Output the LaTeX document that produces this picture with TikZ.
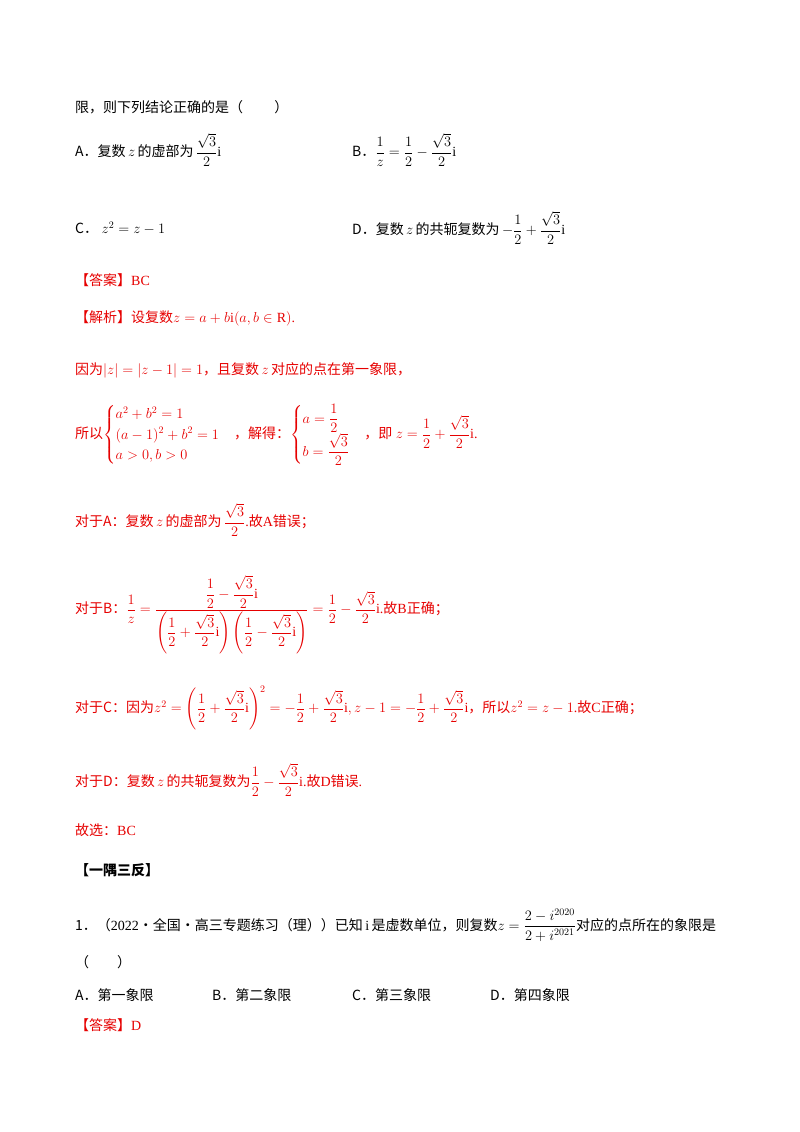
\documentclass[tikz,border=0pt]{standalone}
\usepackage{amsmath,amssymb}
\usepackage{fontspec}
\setmainfont{Liberation Serif}
\newfontfamily\cjk{Noto Sans CJK SC}
\definecolor{ansred}{RGB}{230,0,0}
\begin{document}
\begin{tikzpicture}[x=1pt,y=-1pt,
  every node/.style={anchor=west,inner sep=0pt,font=\fontsize{14}{17}\selectfont},
  red/.style={text=ansred}]
\useasboundingbox (0,0) rectangle (800,1132);
\node (l1) at (75,107) {\cjk 限，则下列结论正确的是（\qquad\ ）};
\node (a) at (75,150) {{\cjk A．复数}\,$z$\,{\cjk 的虚部为}\,$\dfrac{\sqrt3}{2}\mathrm{i}$};
\node (b) at (352,150) {{\cjk B．}$\dfrac1z=\dfrac12-\dfrac{\sqrt3}{2}\mathrm{i}$};
\node (c) at (75,228) {{\cjk C．}\ $z^2=z-1$};
\node (d) at (352,228) {{\cjk D．复数}\,$z$\,{\cjk 的共轭复数为}\,$-\dfrac12+\dfrac{\sqrt3}{2}\mathrm{i}$};
\node[red] (ans) at (75,280) {{\cjk 【答案】}BC};
\node[red] (j1) at (75,318) {{\cjk 【解析】设复数}$z=a+b\mathrm{i}(a,b\in\mathrm{R})$.};
\node[red] (j2) at (75,370) {{\cjk 因为}$|z|=|z-1|=1${\cjk ，且复数}\,$z$\,{\cjk 对应的点在第一象限，}};
\node[red] (j3) at (75,435) {{\cjk 所以}$\begin{cases}a^2+b^2=1\\(a-1)^2+b^2=1\\a>0,b>0\end{cases}${\cjk ，解得：}$\begin{cases}a=\dfrac12\\[4pt] b=\dfrac{\sqrt3}{2}\end{cases}${\cjk ，即}\ $z=\dfrac12+\dfrac{\sqrt3}{2}\mathrm{i}$.};
\node[red] (ja) at (75,520) {{\cjk 对于A：复数}\,$z$\,{\cjk 的虚部为}\,$\dfrac{\sqrt3}{2}$.{\cjk 故}A{\cjk 错误；}};
\node[red] (jb) at (75,615) {{\cjk 对于B：}$\dfrac1z=\dfrac{\dfrac12-\dfrac{\sqrt3}{2}\mathrm{i}}{\left(\dfrac12+\dfrac{\sqrt3}{2}\mathrm{i}\right)\left(\dfrac12-\dfrac{\sqrt3}{2}\mathrm{i}\right)}=\dfrac12-\dfrac{\sqrt3}{2}\mathrm{i}$.{\cjk 故}B{\cjk 正确；}};
\node[red] (jc) at (75,708) {{\cjk 对于C：因为}$z^2=\left(\dfrac12+\dfrac{\sqrt3}{2}\mathrm{i}\right)^2=-\dfrac12+\dfrac{\sqrt3}{2}\mathrm{i},z-1=-\dfrac12+\dfrac{\sqrt3}{2}\mathrm{i}${\cjk ，所以}$z^2=z-1$.{\cjk 故}C{\cjk 正确；}};
\node[red] (jd) at (75,780) {{\cjk 对于D：复数}\,$z$\,{\cjk 的共轭复数为}$\dfrac12-\dfrac{\sqrt3}{2}\mathrm{i}$.{\cjk 故}D{\cjk 错误}.};
\node[red] (sel) at (75,830) {{\cjk 故选：}BC};
\node (ys) at (75,870) {\cjk\bfseries 【一隅三反】};
\node (q1) at (75,925) {{\cjk 1．（}2022{\cjk ·全国·高三专题练习（理））已知}\,i\,{\cjk 是虚数单位，则复数}$z=\dfrac{2-i^{2020}}{2+i^{2021}}${\cjk 对应的点所在的象限是}};
\node (q2) at (75,962) {\cjk （\qquad ）};
\node (oa) at (75,995) {\cjk A．第一象限};
\node (ob) at (212,995) {\cjk B．第二象限};
\node (oc) at (352,995) {\cjk C．第三象限};
\node (od) at (490,995) {\cjk D．第四象限};
\node[red] (ans2) at (75,1025) {{\cjk 【答案】}D};
\end{tikzpicture}
\end{document}
